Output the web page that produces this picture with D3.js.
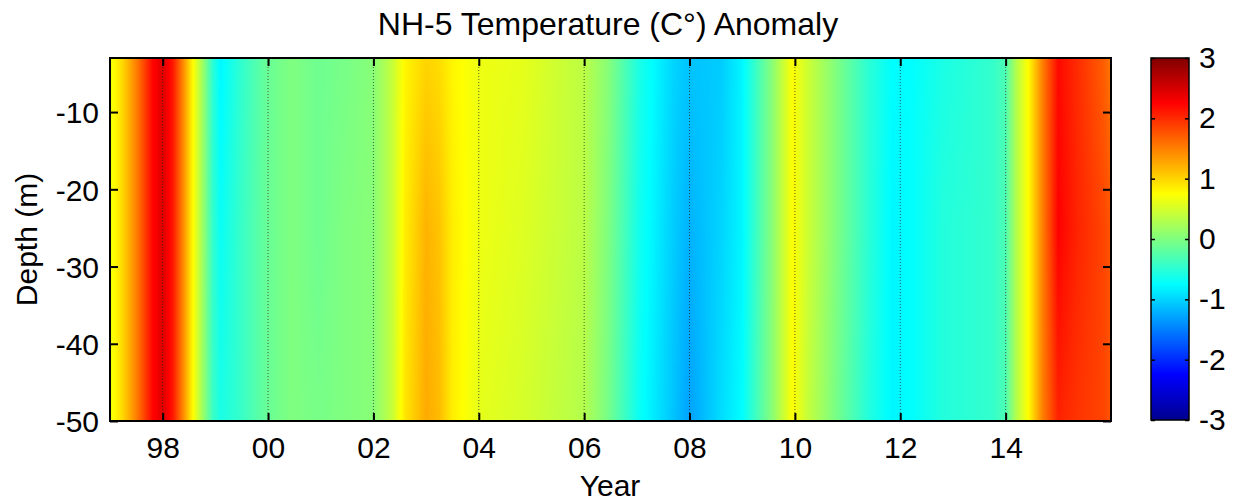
<!DOCTYPE html>
<html>
<head>
<meta charset="utf-8">
<script src="https://cdn.jsdelivr.net/npm/d3@7"></script>
<style>
  body { margin: 0; background: #fff; }
  text { font-family: "Liberation Sans", Arial, sans-serif; fill: #000; }
</style>
</head>
<body>
<svg id="chart" width="1239" height="501"></svg>
<script>
// ---- Data ----
const years = [1997.0, 1997.25, 1997.5, 1997.8, 1998.0, 1998.2, 1998.4, 1998.55, 1998.75, 1998.95,
  1999.1, 1999.45, 1999.95, 2000.45, 2000.95, 2001.45, 2002.0, 2002.35, 2002.6, 2003.0,
  2003.25, 2003.5, 2004.0, 2004.85, 2006.0, 2006.45, 2007.05, 2007.7, 2008.0, 2008.6,
  2009.0, 2009.6, 2009.95, 2010.25, 2010.9, 2011.4, 2011.85, 2012.2, 2012.8, 2013.75,
  2014.0, 2014.2, 2014.45, 2014.7, 2015.0, 2015.35, 2015.85, 2016.0];
const depths = [-3, -25, -50];
const anomalySurface = [0.65, 1.0, 1.5, 2.2, 2.45, 2.1, 1.4, 0.85, 0.2, -0.5,
  -0.8, -0.5, -0.15, 0.0, -0.1, -0.05, 0.05, 0.4, 0.8, 1.0,
  0.95, 0.8, 0.65, 0.6, 0.35, 0.05, -0.6, -1.0, -1.1, -1.05,
  -0.8, 0.1, 0.75, 0.45, -0.1, -0.5, -0.75, -0.75, -0.6, -0.45,
  -0.3, 0.3, 0.8, 1.5, 2.2, 2.0, 1.7, 1.55];
const anomalyMid = [0.65, 1.0, 1.5, 2.2, 2.45, 2.1, 1.4, 0.85, 0.2, -0.45,
  -0.7, -0.45, -0.15, 0.0, -0.1, 0.0, 0.05, 0.4, 0.85, 1.2,
  1.1, 0.85, 0.65, 0.55, 0.35, 0.0, -0.65, -1.05, -1.2, -1.0,
  -0.8, 0.1, 0.75, 0.45, -0.1, -0.5, -0.8, -0.75, -0.55, -0.45,
  -0.3, 0.3, 0.8, 1.5, 2.25, 2.05, 1.85, 1.75];
const anomalyBottom = [0.65, 1.0, 1.5, 2.2, 2.45, 2.1, 1.4, 0.85, 0.2, -0.4,
  -0.6, -0.45, -0.15, 0.0, -0.05, 0.0, 0.05, 0.4, 0.9, 1.25,
  1.15, 0.85, 0.6, 0.5, 0.3, -0.05, -0.7, -1.1, -1.3, -0.95,
  -0.75, 0.1, 0.75, 0.4, -0.15, -0.55, -0.8, -0.75, -0.55, -0.45,
  -0.3, 0.3, 0.8, 1.5, 2.05, 1.95, 1.85, 1.75];
const anomalyByDepth = [anomalySurface, anomalyMid, anomalyBottom];
const xTickValues = [1998, 2000, 2002, 2004, 2006, 2008, 2010, 2012, 2014];
const xTickLabels = ["98", "00", "02", "04", "06", "08", "10", "12", "14"];
const yTickValues = [-10, -20, -30, -40, -50];
const yTickLabels = ["-10", "-20", "-30", "-40", "-50"];
const cbarTicks = [-3, -2, -1, 0, 1, 2, 3];
const cbarLabels = ["-3", "-2", "-1", "0", "1", "2", "3"];
const jetStops = [-3, -2.25, -0.75, 0.75, 2.25, 3];
const jetColors = ["#00008f", "#0000ff", "#00ffff", "#ffff00", "#ff0000", "#800000"];

// ---- Layout ----
const svg = d3.select("#chart");
const L = 110, R = 1111, T = 58, B = 421;
const x = d3.scaleLinear().domain([1997, 2016]).range([L, R]);
const y = d3.scaleLinear().domain([-3, -50]).range([T, B]);
const color = d3.scaleLinear().domain(jetStops).range(jetColors).clamp(true);
const FS = 30;

// ---- Field rendering (shaded between data samples) ----
const W = R - L, H = B - T;
const canvas = document.createElement("canvas");
canvas.width = W; canvas.height = H;
const ctx = canvas.getContext("2d");
const img = ctx.createImageData(W, H);
function interp1(xs, vs, v) {
  let i = d3.bisectRight(xs, v) - 1;
  i = Math.max(0, Math.min(xs.length - 2, i));
  const t = Math.max(0, Math.min(1, (v - xs[i]) / (xs[i + 1] - xs[i])));
  return vs[i] + t * (vs[i + 1] - vs[i]);
}
const negDepths = depths.map(d => -d);
for (let py = 0; py < H; py++) {
  const dep = -y.invert(T + py + 0.5);
  let j = d3.bisectRight(negDepths, dep) - 1;
  j = Math.max(0, Math.min(negDepths.length - 2, j));
  const tj = Math.max(0, Math.min(1, (dep - negDepths[j]) / (negDepths[j + 1] - negDepths[j])));
  for (let px = 0; px < W; px++) {
    const yr = x.invert(L + px + 0.5);
    const a = interp1(years, anomalyByDepth[j], yr);
    const b = interp1(years, anomalyByDepth[j + 1], yr);
    const c = d3.rgb(color(a + tj * (b - a)));
    const k = (py * W + px) * 4;
    img.data[k] = c.r; img.data[k + 1] = c.g; img.data[k + 2] = c.b; img.data[k + 3] = 255;
  }
}
ctx.putImageData(img, 0, 0);
svg.append("image").attr("x", L).attr("y", T).attr("width", W).attr("height", H)
  .attr("preserveAspectRatio", "none").attr("href", canvas.toDataURL());

// ---- Dotted grid lines ----
svg.append("g").selectAll("line").data(xTickValues).join("line")
  .attr("x1", d => x(d)).attr("x2", d => x(d)).attr("y1", T).attr("y2", B)
  .attr("stroke", "#222").attr("stroke-width", 1).attr("stroke-dasharray", "1,2").attr("opacity", 0.7);

// ---- Axes (inward ticks) ----
const tickLen = 8;
const xAxisB = d3.axisBottom(x).tickValues(xTickValues).tickFormat((d, i) => xTickLabels[i])
  .tickSizeInner(-tickLen).tickSizeOuter(0).tickPadding(16);
const gx = svg.append("g").attr("transform", `translate(0,${B})`).call(xAxisB);
const xAxisT = d3.axisTop(x).tickValues(xTickValues).tickFormat("").tickSizeInner(-tickLen).tickSizeOuter(0);
const gxt = svg.append("g").attr("transform", `translate(0,${T})`).call(xAxisT);
const yAxisL = d3.axisLeft(y).tickValues(yTickValues).tickFormat((d, i) => yTickLabels[i])
  .tickSizeInner(-tickLen).tickSizeOuter(0).tickPadding(11);
const gy = svg.append("g").attr("transform", `translate(${L},0)`).call(yAxisL);
const yAxisR = d3.axisRight(y).tickValues(yTickValues).tickFormat("").tickSizeInner(-tickLen).tickSizeOuter(0);
const gyr = svg.append("g").attr("transform", `translate(${R},0)`).call(yAxisR);
[gx, gxt, gy, gyr].forEach(g => {
  g.attr("font-size", FS).attr("font-family", "Liberation Sans, Arial, sans-serif");
  g.select(".domain").remove();
  g.selectAll(".tick line").attr("stroke", "#000").attr("stroke-width", 2);
  g.selectAll(".tick text").attr("fill", "#000");
});
gy.selectAll(".tick text").attr("dy", "0.36em");
svg.append("rect").attr("x", L).attr("y", T).attr("width", W).attr("height", H)
  .attr("fill", "none").attr("stroke", "#000").attr("stroke-width", 2);

// ---- Colorbar ----
const cbL = 1151, cbR = 1189;
const cy = d3.scaleLinear().domain([-3, 3]).range([B - 1, T]);
const defs = svg.append("defs");
const grad = defs.append("linearGradient").attr("id", "jet").attr("x1", 0).attr("y1", 1).attr("x2", 0).attr("y2", 0);
grad.selectAll("stop").data(jetStops).join("stop")
  .attr("offset", d => (d + 3) / 6).attr("stop-color", d => color(d));
svg.append("rect").attr("x", cbL).attr("y", cy(3)).attr("width", cbR - cbL).attr("height", cy(-3) - cy(3))
  .attr("fill", "url(#jet)").attr("stroke", "#000").attr("stroke-width", 1.5);
const cbAxisR = d3.axisRight(cy).tickValues(cbarTicks).tickFormat((d, i) => cbarLabels[i])
  .tickSizeInner(-4).tickSizeOuter(0).tickPadding(10);
const gcb = svg.append("g").attr("transform", `translate(${cbR},0)`).call(cbAxisR);
const cbAxisL = d3.axisLeft(cy).tickValues(cbarTicks).tickFormat("").tickSizeInner(-4).tickSizeOuter(0);
const gcbl = svg.append("g").attr("transform", `translate(${cbL},0)`).call(cbAxisL);
[gcb, gcbl].forEach(g => {
  g.attr("font-size", FS).attr("font-family", "Liberation Sans, Arial, sans-serif");
  g.select(".domain").remove();
  g.selectAll(".tick line").attr("stroke", "#000").attr("stroke-width", 1.5);
  g.selectAll(".tick text").attr("fill", "#000");
});

// ---- Titles ----
svg.append("text").attr("x", 608).attr("y", 35).attr("text-anchor", "middle")
  .attr("font-size", 32).text("NH-5 Temperature (C°) Anomaly");
svg.append("text").attr("x", 610).attr("y", 496).attr("text-anchor", "middle")
  .attr("font-size", FS).text("Year");
svg.append("text").attr("transform", `translate(37,${(T + B) / 2}) rotate(-90)`).attr("text-anchor", "middle")
  .attr("font-size", FS).text("Depth (m)");
</script>
</body>
</html>
